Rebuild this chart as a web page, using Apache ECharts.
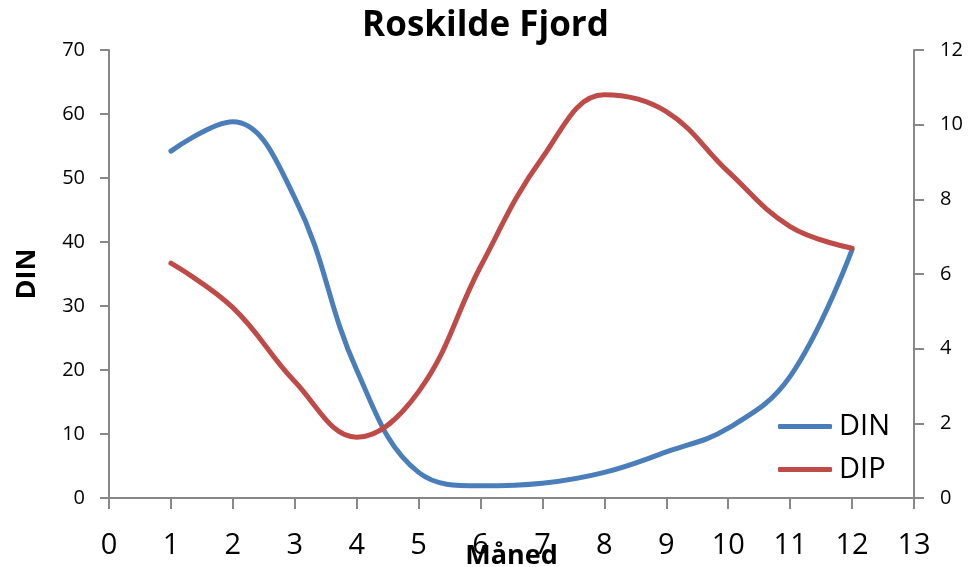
<!DOCTYPE html>
<html><head><meta charset="utf-8">
<script src="https://cdn.jsdelivr.net/npm/echarts@6/dist/echarts.min.js"></script>
<style>html,body{margin:0;padding:0;background:#fff}#c{width:971px;height:567px}</style>
</head><body><div id="c"></div>
<script>
const months = [1,2,3,4,5,6,7,8,9,10,11,12];
const din = [54.2, 58.8, 46.9, 20.0, 4.0, 1.9, 2.3, 4.0, 7.2, 10.9, 19.0, 38.8];
const dip = [6.29, 5.1, 3.12, 1.63, 2.85, 6.2, 9.12, 10.8, 10.35, 8.74, 7.27, 6.69];
const FONT = '"Open Sans", Lato, sans-serif';
const chart = echarts.init(document.getElementById('c'));
chart.setOption({
  animation: false,
  backgroundColor: '#fff',
  title: {text: 'Roskilde Fjord', left: 'center', top: 4,
    textStyle: {fontFamily: FONT, fontWeight: 'bold', fontSize: 35, color: '#000'}},
  grid: {left: 109, right: 57, top: 50, bottom: 69, outerBoundsMode: 'none', containLabel: false},
  legend: {orient: 'vertical', left: 773, top: 407, itemWidth: 54, itemHeight: 5, itemGap: 14,
    icon: 'roundRect', textStyle: {fontFamily: FONT, fontSize: 29, color: '#000', padding: [0,0,0,2]},
    data: ['DIN', 'DIP']},
  xAxis: {type: 'value', min: 0, max: 13, interval: 1,
    name: 'Måned', nameLocation: 'middle', nameGap: 45, nameMoveOverlap: false,
    nameTextStyle: {fontFamily: FONT, fontWeight: 'bold', fontSize: 27, color: '#000'},
    axisLine: {lineStyle: {color: '#888', width: 2}},
    axisTick: {length: 11, lineStyle: {color: '#888', width: 2}},
    axisLabel: {fontFamily: FONT, fontSize: 29, color: '#000', margin: 33},
    splitLine: {show: false}},
  yAxis: [
    {type: 'value', min: 0, max: 70, interval: 10, position: 'left',
      name: 'DIN', nameLocation: 'middle', nameGap: 68, nameRotate: 90, nameMoveOverlap: false,
      nameTextStyle: {fontFamily: FONT, fontWeight: 'bold', fontSize: 27, color: '#000'},
      axisLine: {show: true, lineStyle: {color: '#888', width: 2}},
      axisTick: {show: true, length: 9, lineStyle: {color: '#888', width: 2}},
      axisLabel: {fontFamily: FONT, fontSize: 20, color: '#000', margin: 24},
      splitLine: {show: false}},
    {type: 'value', min: 0, max: 12, interval: 2, position: 'right',
      axisLine: {show: true, lineStyle: {color: '#888', width: 2}},
      axisTick: {show: true, length: 10, lineStyle: {color: '#888', width: 2}},
      axisLabel: {fontFamily: FONT, fontSize: 20, color: '#000', margin: 26},
      splitLine: {show: false}}
  ],
  series: [
    {name: 'DIN', type: 'line', yAxisIndex: 0, smooth: 0.4, showSymbol: false, symbol: 'none',
      data: months.map((m, i) => [m, din[i]]),
      lineStyle: {color: '#4A7EBB', width: 5, cap: 'round'}, itemStyle: {color: '#4A7EBB'}},
    {name: 'DIP', type: 'line', yAxisIndex: 1, smooth: 0.4, showSymbol: false, symbol: 'none',
      data: months.map((m, i) => [m, dip[i]]),
      lineStyle: {color: '#BE4B48', width: 5, cap: 'round'}, itemStyle: {color: '#BE4B48'}}
  ]
});
</script></body></html>
